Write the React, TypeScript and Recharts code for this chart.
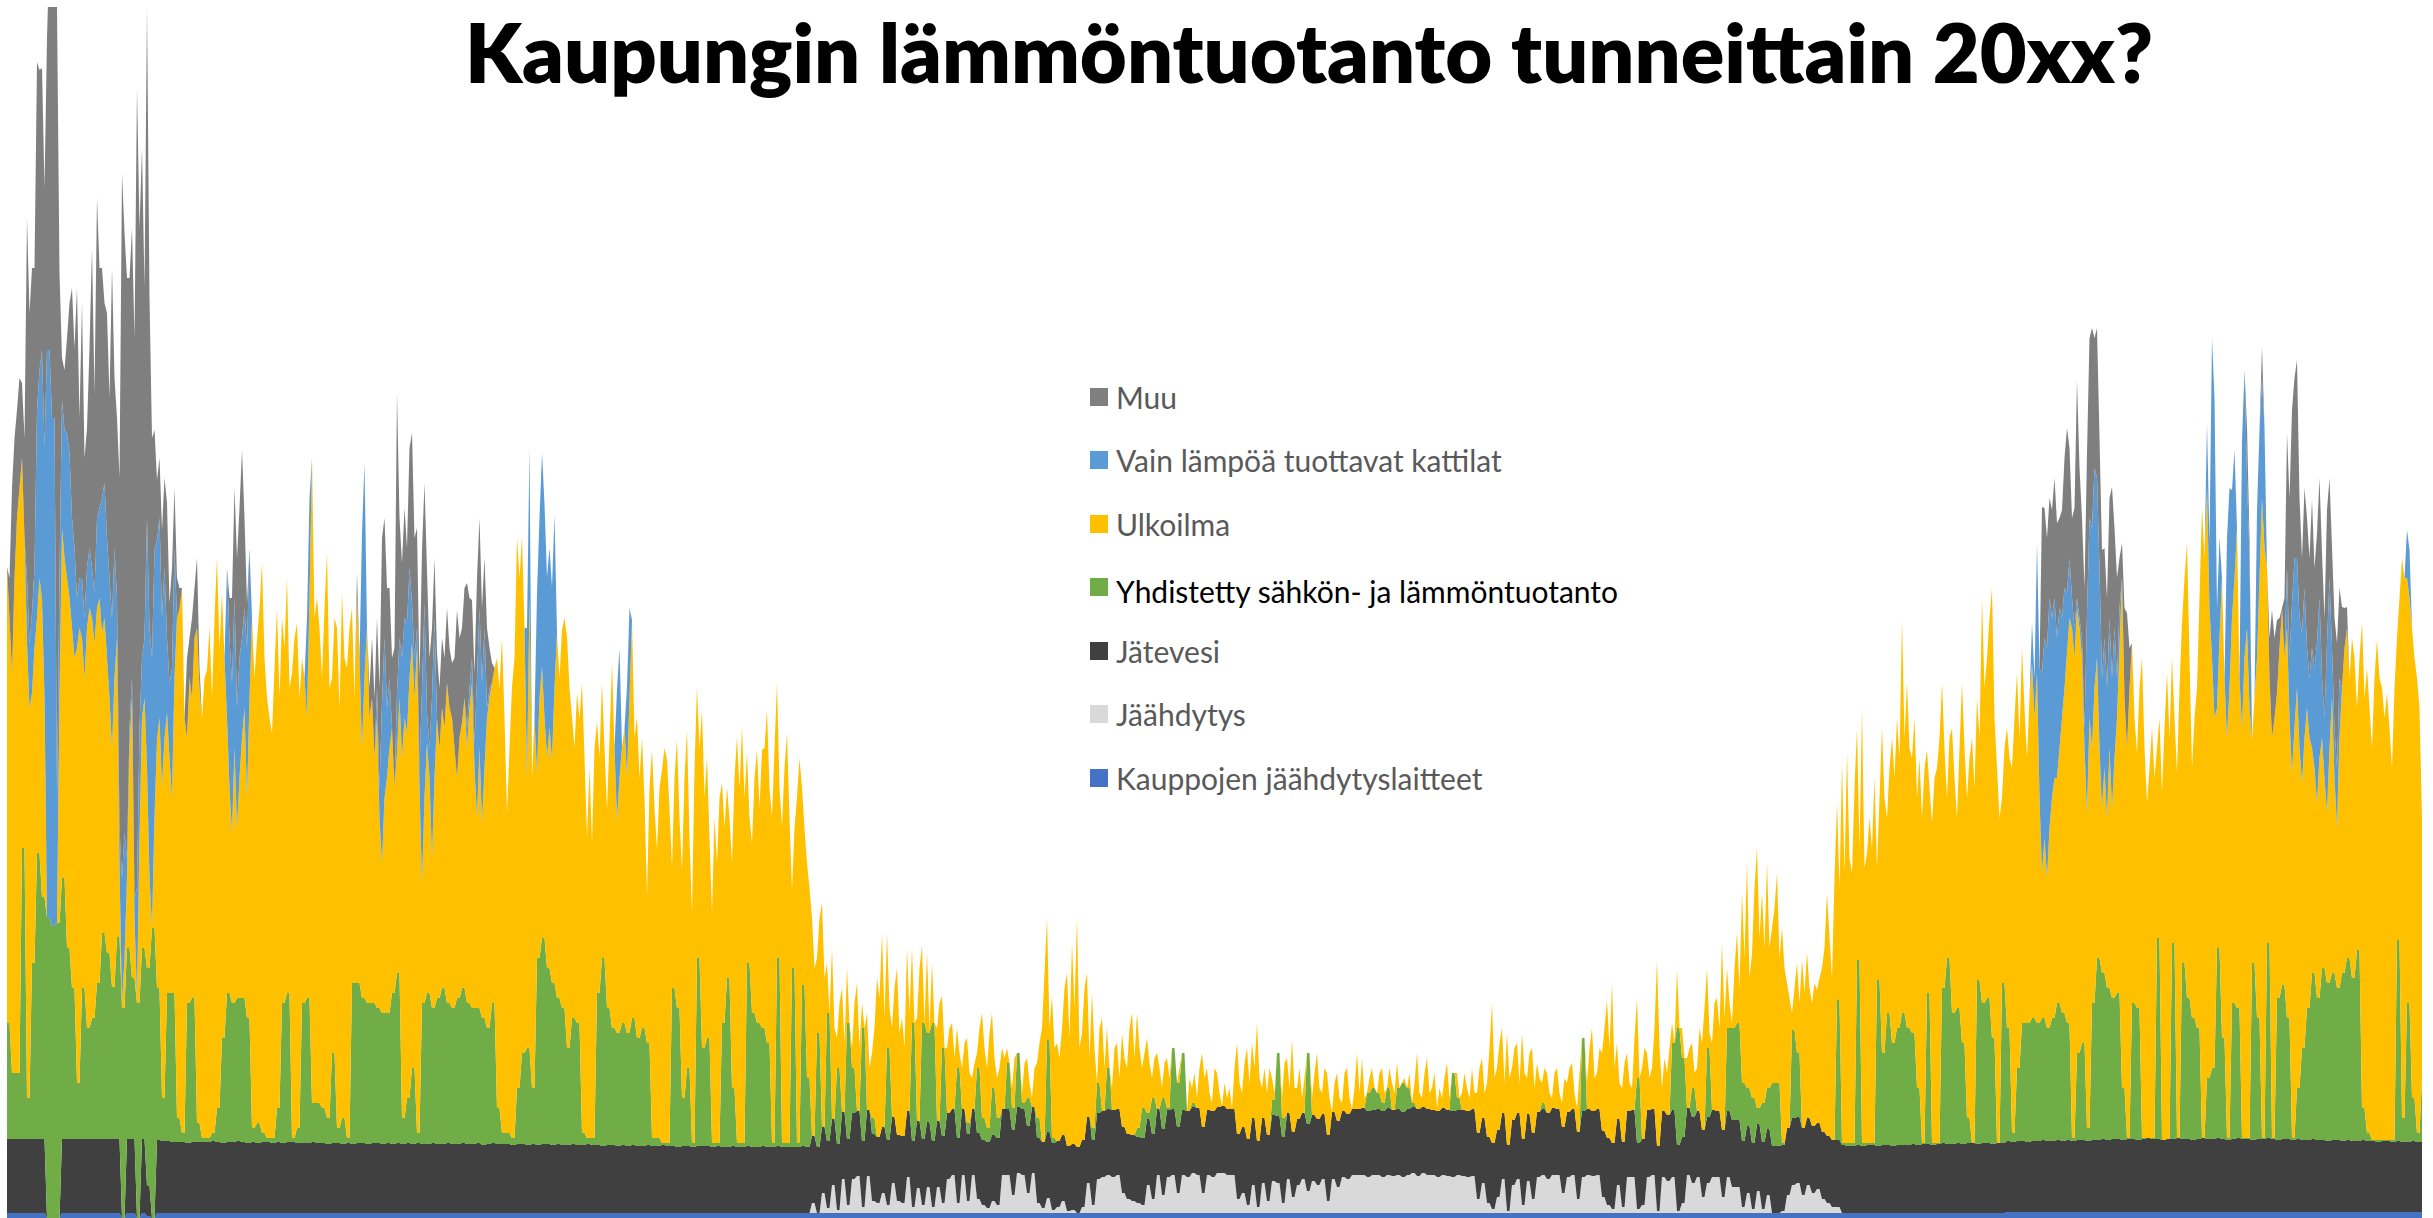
import React from 'react';
import { AreaChart, Area, XAxis, YAxis, Legend } from 'recharts';

// The fast-moving top bands are read every 9 hours, the slower bands every 18.
const HOURS_PER_READING = 9;

// Store refrigeration output, every 18 h.
const kauppojen = [
  5,5,5,5,5,5,5,5,0,0,0,5,5,5,5,5,5,5,5,5,
  5,5,5,0,5,5,0,5,2,0,5,5,5,5,5,5,5,5,5,5,
  5,5,5,5,5,5,5,5,5,5,5,5,5,5,5,5,5,5,5,5,
  5,5,5,5,5,5,5,5,5,5,5,5,5,5,5,5,5,5,5,5,
  5,5,5,5,5,5,5,5,5,5,5,5,5,5,5,5,5,5,5,5,
  5,5,5,5,5,5,5,5,5,5,5,5,5,5,5,5,5,5,5,5,
  5,5,5,5,5,5,5,5,5,5,5,5,5,5,5,5,5,5,5,5,
  5,5,5,5,5,5,5,5,5,5,5,5,5,5,5,5,5,5,5,5,
  5,5,5,5,5,5,5,5,5,5,5,5,5,5,5,5,5,5,5,5,
  5,5,5,5,5,5,5,5,5,5,5,5,5,5,5,5,5,5,5,5,
  5,5,5,5,5,5,5,5,5,5,5,5,5,5,5,5,5,5,5,5,
  5,5,5,5,5,5,5,5,5,5,5,5,5,5,5,5,5,5,5,5,
  5,5,5,5,5,5,5,5,5,5,5,5,5,5,5,5,5,5,5,5,
  5,5,5,5,5,5,5,5,5,5,5,5,5,5,5,5,5,5,5,5,
  5,5,5,5,5,5,5,5,5,5,5,5,5,5,5,5,5,5,5,5,
  5,5,5,5,5,5,5,5,5,5,5,5,5,5,5,5,5,5,5,5,
  5,5,5,5,5,5,5,5,5,5,5,5,5,5,5,5,5,5,5,5,
  5,5,5,5,5,5,5,5,5,5,5,5,5,5,5,5,5,5,5,5,
  5,5,5,5,5,5,5,5,5,5,5,5,5,5,5,5,5,5,5,5,
  5,5,5,5,5,5,5,5,5,5,5,5,5,5,5,5,5,5,5,5,
  6,6,6,6,6,6,6,6,6,6,6,6,6,6,6,6,6,6,6,6,
  6,6,6,6,6,6,6,6,6,6,6,6,6,6,6,6,6,6,6,6,
  6,6,6,6,6,6,6,6,6,6,6,6,6,6,6,6,6,6,6,6,
  6,6,6,6,6,6,6,6,6,6,6,6,6,6,6,6,6,6,6,6,
  6,6,6,6,
];

// Summer cooling recovery, every 18 h, zero outside the warm months.
const jaahdytys = [
  0,0,0,0,0,0,0,0,0,0,0,0,0,0,0,0,0,0,0,0,
  0,0,0,0,0,0,0,0,0,0,0,0,0,0,0,0,0,0,0,0,
  0,0,0,0,0,0,0,0,0,0,0,0,0,0,0,0,0,0,0,0,
  0,0,0,0,0,0,0,0,0,0,0,0,0,0,0,0,0,0,0,0,
  0,0,0,0,0,0,0,0,0,0,0,0,0,0,0,0,0,0,0,0,
  0,0,0,0,0,0,0,0,0,0,0,0,0,0,0,0,0,0,0,0,
  0,0,0,0,0,0,0,0,0,0,0,0,0,0,0,0,0,0,0,0,
  0,0,0,0,0,0,0,0,0,0,0,0,0,0,0,0,0,0,0,0,
  0,10,0,20,5,28,3,34,8,34,37,6,37,12,10,20,8,30,12,10,
  36,6,25,8,26,6,26,10,34,38,10,38,12,38,14,8,5,12,8,38,
  38,18,40,38,20,40,10,5,15,3,6,12,2,3,0,6,30,8,34,36,
  38,36,38,20,14,12,10,8,28,14,38,18,36,38,20,38,36,40,38,20,
  38,36,40,40,38,38,14,20,8,28,6,30,12,32,30,10,34,16,28,34,
  22,32,28,34,12,34,26,36,34,38,38,38,36,38,38,36,38,37,38,36,
  38,40,37,40,38,38,36,38,37,36,38,37,36,37,14,30,10,4,16,34,
  2,28,34,8,32,14,36,38,34,38,38,20,36,38,14,36,38,37,38,16,
  8,4,28,6,36,36,4,8,36,38,2,36,32,36,2,10,38,30,36,16,
  30,36,36,16,36,26,26,6,20,4,22,4,18,0,0,2,18,28,30,18,
  28,20,24,14,10,6,6,0,0,0,0,0,0,0,0,0,0,0,0,0,
  0,0,0,0,0,0,0,0,0,0,0,0,0,0,0,0,0,0,0,0,
  0,0,0,0,0,0,0,0,0,0,0,0,0,0,0,0,0,0,0,0,
  0,0,0,0,0,0,0,0,0,0,0,0,0,0,0,0,0,0,0,0,
  0,0,0,0,0,0,0,0,0,0,0,0,0,0,0,0,0,0,0,0,
  0,0,0,0,0,0,0,0,0,0,0,0,0,0,0,0,0,0,0,0,
  0,0,0,0,
];

// Waste water heat pumps, every 18 h, with a few outages in the first weeks.
const jatevesi = [
  74,74,74,74,74,74,74,74,0,0,0,74,74,74,74,74,74,74,74,74,
  74,74,74,0,74,74,0,74,30,0,73,72,72,71,71,71,70,71,71,71,
  71,72,71,70,71,71,72,71,70,71,70,71,71,70,71,70,71,71,70,70,
  70,71,70,70,69,70,70,69,70,69,70,70,69,70,70,69,70,69,70,69,
  70,69,70,69,69,70,69,69,70,69,69,70,69,69,70,68,69,70,69,69,
  69,68,69,69,68,69,68,69,69,68,69,68,68,69,68,68,69,68,68,67,
  68,68,67,68,67,68,67,67,68,67,67,68,67,67,66,67,67,66,67,67,
  67,66,67,66,66,67,66,66,67,66,66,67,66,66,67,66,66,66,66,67,
  66,67,66,66,67,66,66,67,66,66,65,66,66,67,66,66,65,66,66,67,
  66,66,67,66,65,66,66,67,66,66,65,66,67,66,66,65,66,66,67,66,
  66,65,66,66,67,66,65,66,66,67,66,66,65,66,66,67,66,65,66,66,
  66,67,66,66,65,66,66,67,66,65,66,66,67,66,66,65,66,66,67,66,
  65,66,66,67,66,66,65,66,66,67,66,65,66,66,67,66,66,65,66,66,
  67,66,66,65,66,67,66,66,65,66,66,67,66,65,66,66,67,66,66,65,
  66,66,67,66,66,65,66,67,66,66,65,66,66,67,66,65,66,66,67,66,
  66,65,66,66,67,66,65,66,66,67,66,66,65,66,67,66,66,65,66,66,
  67,66,66,65,66,67,66,66,67,66,65,66,66,67,66,66,67,66,66,67,
  66,67,66,67,66,67,67,66,67,66,67,67,66,67,67,66,67,67,66,67,
  67,67,66,67,67,67,67,68,67,67,68,67,68,68,67,68,68,67,68,68,
  68,69,68,69,69,68,69,70,69,69,70,69,70,70,69,70,70,69,70,70,
  71,70,71,71,70,71,71,72,71,71,72,71,72,71,72,72,71,72,72,73,
  72,73,73,72,73,73,72,73,74,73,73,72,73,73,74,73,73,72,73,74,
  73,73,74,73,72,73,74,73,73,72,73,73,74,73,72,73,73,72,73,72,
  72,73,72,72,71,72,72,71,72,71,71,72,71,71,70,71,71,70,71,70,
  70,71,70,70,
];

// Top of the CHP band, every 18 h, measured up from the zero line.
const sahkoLampoTop = [
  195,145,145,370,120,255,365,321,300,292,295,340,270,230,135,230,190,200,235,285,
  265,231,281,210,270,240,215,270,250,290,230,120,225,225,100,85,215,220,95,80,
  80,85,110,180,225,215,220,220,200,90,95,85,80,80,110,215,225,80,90,215,
  220,115,115,110,100,165,90,100,80,235,235,220,215,215,210,205,205,225,245,100,
  120,150,85,215,225,210,220,230,215,210,220,230,215,210,210,200,190,215,110,85,
  85,80,130,165,170,130,260,280,250,235,220,210,170,200,195,85,80,80,225,260,
  210,190,185,195,185,200,180,190,175,80,80,75,75,230,210,120,150,75,260,170,
  180,75,75,195,240,130,75,75,255,205,195,190,175,75,260,75,75,250,75,233,
  140,75,185,75,205,75,150,80,195,150,80,190,80,100,75,80,170,90,80,75,
  80,195,80,195,185,195,90,170,100,100,150,85,95,90,150,100,90,130,100,90,
  155,110,165,115,120,110,100,70,178,80,70,70,70,70,70,70,70,90,135,100,
  150,100,90,70,70,70,90,110,105,120,105,120,110,170,135,165,100,115,100,90,
  70,70,70,70,70,70,70,70,70,70,70,70,70,118,165,100,70,70,70,70,
  165,70,70,70,70,70,70,70,70,70,70,100,125,130,125,115,130,100,130,135,
  130,115,70,70,70,70,70,70,70,145,120,70,70,70,70,70,70,70,70,70,
  70,70,70,70,70,70,70,115,70,70,70,70,70,70,70,180,70,70,70,70,
  70,70,70,70,70,70,140,70,70,70,70,70,70,175,190,160,70,130,70,70,
  170,75,75,75,190,190,195,135,130,120,110,115,130,135,135,75,75,188,165,75,
  75,75,75,75,75,75,218,75,75,75,258,75,75,75,238,165,205,175,190,205,
  190,185,130,75,225,75,75,230,260,205,210,175,100,75,238,215,220,180,75,235,
  190,85,150,195,195,200,195,200,190,200,215,205,195,80,165,175,90,215,260,245,
  230,220,225,130,80,215,210,80,80,80,280,78,78,275,78,255,220,200,190,78,
  140,150,270,180,80,215,210,80,80,255,200,80,275,80,220,233,200,80,130,170,
  210,245,220,250,235,245,230,245,260,240,268,110,85,78,78,78,78,78,278,100,
  215,120,85,140,
];

// Heat-only boilers run only on the coldest days, every 18 h.
const kattilat = [
  0,0,0,0,65,80,208,250,568,508,125,128,145,110,50,60,60,50,90,135,
  120,130,40,125,20,20,110,60,250,268,200,170,75,130,0,0,0,0,0,0,
  0,0,0,0,150,150,120,100,150,0,0,0,0,0,0,0,0,0,0,0,
  100,0,0,0,0,0,0,0,0,0,0,215,0,0,30,160,70,0,60,100,
  110,40,20,195,30,160,0,0,0,0,0,0,20,25,140,140,10,0,0,0,
  0,0,0,0,150,0,180,214,180,173,0,0,0,0,0,0,0,0,0,0,
  0,0,130,0,90,0,0,0,0,0,0,0,0,0,0,0,0,0,0,0,
  0,0,0,0,0,0,0,0,0,0,0,0,0,0,0,0,0,0,0,0,
  0,0,0,0,0,0,0,0,0,0,0,0,0,0,0,0,0,0,0,0,
  0,0,0,0,0,0,0,0,0,0,0,0,0,0,0,0,0,0,0,0,
  0,0,0,0,0,0,0,0,0,0,0,0,0,0,0,0,0,0,0,0,
  0,0,0,0,0,0,0,0,0,0,0,0,0,0,0,0,0,0,0,0,
  0,0,0,0,0,0,0,0,0,0,0,0,0,0,0,0,0,0,0,0,
  0,0,0,0,0,0,0,0,0,0,0,0,0,0,0,0,0,0,0,0,
  0,0,0,0,0,0,0,0,0,0,0,0,0,0,0,0,0,0,0,0,
  0,0,0,0,0,0,0,0,0,0,0,0,0,0,0,0,0,0,0,0,
  0,0,0,0,0,0,0,0,0,0,0,0,0,0,0,0,0,0,0,0,
  0,0,0,0,0,0,0,0,0,0,0,0,0,0,0,0,0,0,0,0,
  0,0,0,0,0,0,0,0,0,0,0,0,0,0,0,0,0,0,0,0,
  0,0,0,0,0,0,0,0,0,0,0,0,0,0,0,0,0,0,0,0,
  0,0,0,0,0,40,130,200,230,180,140,100,60,30,10,20,200,220,180,130,
  130,130,40,0,0,0,0,0,0,0,0,0,0,0,0,0,0,0,0,0,
  65,320,100,0,200,128,0,288,150,0,148,120,0,0,0,0,60,170,130,150,
  60,100,160,60,170,50,60,0,0,0,0,0,0,0,0,0,0,0,0,0,
  48,0,0,0,
];

// Top of the outdoor-air heat pump band, every 9 h, measured up from the zero line.
const ulkoilmaTop = [
  651,600,545,640,700,730,760,680,575,510,525,570,600,640,618,520,300,295,292,292,295,520,690,660,640,620,590,560,570,590,580,540,590,610,600,575,610,620,585,600,
  560,520,470,540,580,350,215,260,340,470,520,300,220,380,500,520,450,340,292,400,478,500,431,480,505,460,420,540,600,610,630,500,480,540,520,580,590,530,500,540,
  548,590,520,600,660,570,625,560,500,430,385,470,390,440,480,510,420,520,600,540,578,610,655,560,520,500,485,550,610,520,600,570,640,530,545,580,595,520,560,540,
  500,620,760,600,620,590,540,610,665,530,540,600,590,510,625,560,550,590,610,520,620,560,470,540,590,500,520,460,500,400,355,420,440,470,490,430,465,520,460,500,
  485,540,575,520,570,430,335,420,475,440,360,440,500,470,510,490,535,510,500,470,440,480,495,520,470,510,535,450,400,470,395,450,500,520,535,550,560,530,580,500,
  405,470,531,560,681,640,681,590,440,620,440,500,445,520,551,500,461,490,458,530,585,540,588,600,581,530,501,470,525,500,535,460,381,450,375,470,496,460,535,470,
  408,480,555,470,398,440,471,490,441,520,598,480,501,440,480,420,322,430,468,410,368,430,448,470,458,410,351,440,478,400,348,440,488,380,305,450,531,470,508,420,
  461,380,305,400,355,420,435,390,431,400,355,440,481,430,491,420,465,400,375,440,468,410,468,470,508,430,401,470,535,430,391,450,485,400,328,390,421,460,430,390,
  355,330,300,250,260,300,315,240,255,200,270,190,180,215,230,175,250,160,170,215,235,170,215,180,205,150,165,190,240,220,285,200,285,210,190,230,250,185,200,170,
  270,205,270,180,200,250,272,195,265,190,255,170,190,215,222,150,170,190,195,160,190,165,150,175,180,145,140,155,165,190,205,170,150,185,205,160,140,150,170,160,
  170,150,130,160,165,140,125,155,160,135,120,150,155,175,190,245,300,190,222,170,175,160,190,230,245,180,275,210,300,170,185,230,245,160,225,170,135,190,200,150,
  190,150,130,170,175,140,185,160,150,190,205,160,205,170,150,165,180,155,140,160,165,150,130,155,160,140,155,135,125,150,145,130,105,140,130,145,120,150,165,140,
  150,125,115,150,145,125,110,135,120,130,110,150,175,135,125,155,170,135,175,150,195,140,130,150,125,150,140,125,130,145,120,155,160,130,178,130,130,150,120,140,
  145,125,120,145,165,130,125,150,145,120,105,135,145,120,115,145,150,120,100,130,165,125,160,120,115,140,150,125,125,145,150,125,120,150,135,125,155,125,110,140,
  120,145,105,135,165,125,120,145,160,125,130,145,110,130,120,140,155,120,115,135,145,120,125,145,130,120,150,125,125,150,160,125,135,170,215,140,150,175,190,135,
  185,140,150,170,175,135,185,145,140,165,170,130,155,140,135,150,145,125,120,145,150,125,115,140,135,150,155,125,110,145,155,130,135,170,190,140,145,170,165,190,
  218,170,235,150,175,135,130,155,165,135,130,180,220,140,150,170,165,140,150,190,258,170,130,160,145,170,195,165,248,180,190,150,160,170,175,145,150,190,175,210,
  250,185,175,215,220,190,275,200,250,215,195,250,285,230,325,260,355,240,265,330,370,280,325,270,355,270,290,310,345,260,290,250,235,220,205,230,255,215,258,225,
  265,230,215,235,228,240,250,270,325,280,240,340,415,330,455,345,465,360,345,430,490,370,510,350,365,400,370,440,350,420,490,420,400,450,480,440,500,460,598,480,
  535,470,460,500,420,460,400,450,468,430,395,440,450,480,535,470,420,480,490,440,400,470,535,470,420,460,480,430,520,480,620,530,560,600,630,500,450,400,420,470,
  490,460,450,500,545,480,570,510,460,520,555,500,545,420,345,380,340,390,420,440,440,470,500,530,565,600,590,560,610,590,560,470,405,500,470,530,560,470,410,450,
  400,470,410,460,500,570,640,520,470,530,575,500,465,530,560,470,415,450,490,440,470,500,425,490,545,480,560,500,445,530,595,640,675,560,450,500,530,620,710,660,
  730,610,560,500,510,580,640,540,480,530,600,640,690,540,490,560,590,510,478,520,560,640,720,670,650,540,480,500,525,570,610,560,590,500,445,490,530,470,435,480,
  510,480,470,450,415,460,480,440,405,470,520,440,390,480,530,570,590,540,580,560,510,560,595,520,550,510,470,540,578,540,530,500,525,490,450,530,580,620,660,640,
  640,620,590,560,540,510,400,
];

// Everything else, the peak reserve on top of the stack, every 9 h.
const muu = [
  0,40,185,140,108,110,75,100,360,330,345,300,348,300,282,260,312,400,411,600,791,300,42,60,95,150,230,200,310,160,275,160,140,200,320,200,320,240,230,180,
  225,180,350,170,180,350,705,600,580,450,450,560,800,500,510,350,511,330,220,120,60,60,87,90,135,80,100,60,40,20,0,0,80,40,80,50,70,20,0,0,
  0,0,0,0,0,0,0,0,0,40,85,110,150,150,188,90,45,0,0,0,0,0,0,0,0,0,0,0,0,0,0,0,0,0,0,0,0,0,0,0,
  0,0,0,0,0,0,0,0,0,0,0,0,0,0,0,0,0,0,0,0,25,0,0,0,0,30,60,60,70,100,165,120,120,90,70,140,300,120,95,110,
  75,120,170,120,100,90,138,120,143,90,70,60,65,60,70,70,75,60,55,90,168,100,95,110,145,90,58,70,100,90,75,70,80,40,20,0,0,0,0,0,
  0,0,0,0,0,0,0,0,0,0,0,0,0,0,0,0,0,0,0,0,0,0,0,0,0,0,0,0,0,0,0,0,0,0,0,0,0,0,0,0,
  0,0,0,0,0,0,0,0,0,0,0,0,0,0,0,0,0,0,0,0,0,0,0,0,0,0,0,0,0,0,0,0,0,0,0,0,0,0,0,0,
  0,0,0,0,0,0,0,0,0,0,0,0,0,0,0,0,0,0,0,0,0,0,0,0,0,0,0,0,0,0,0,0,0,0,0,0,0,0,0,0,
  0,0,0,0,0,0,0,0,0,0,0,0,0,0,0,0,0,0,0,0,0,0,0,0,0,0,0,0,0,0,0,0,0,0,0,0,0,0,0,0,
  0,0,0,0,0,0,0,0,0,0,0,0,0,0,0,0,0,0,0,0,0,0,0,0,0,0,0,0,0,0,0,0,0,0,0,0,0,0,0,0,
  0,0,0,0,0,0,0,0,0,0,0,0,0,0,0,0,0,0,0,0,0,0,0,0,0,0,0,0,0,0,0,0,0,0,0,0,0,0,0,0,
  0,0,0,0,0,0,0,0,0,0,0,0,0,0,0,0,0,0,0,0,0,0,0,0,0,0,0,0,0,0,0,0,0,0,0,0,0,0,0,0,
  0,0,0,0,0,0,0,0,0,0,0,0,0,0,0,0,0,0,0,0,0,0,0,0,0,0,0,0,0,0,0,0,0,0,0,0,0,0,0,0,
  0,0,0,0,0,0,0,0,0,0,0,0,0,0,0,0,0,0,0,0,0,0,0,0,0,0,0,0,0,0,0,0,0,0,0,0,0,0,0,0,
  0,0,0,0,0,0,0,0,0,0,0,0,0,0,0,0,0,0,0,0,0,0,0,0,0,0,0,0,0,0,0,0,0,0,0,0,0,0,0,0,
  0,0,0,0,0,0,0,0,0,0,0,0,0,0,0,0,0,0,0,0,0,0,0,0,0,0,0,0,0,0,0,0,0,0,0,0,0,0,0,0,
  0,0,0,0,0,0,0,0,0,0,0,0,0,0,0,0,0,0,0,0,0,0,0,0,0,0,0,0,0,0,0,0,0,0,0,0,0,0,0,0,
  0,0,0,0,0,0,0,0,0,0,0,0,0,0,0,0,0,0,0,0,0,0,0,0,0,0,0,0,0,0,0,0,0,0,0,0,0,0,0,0,
  0,0,0,0,0,0,0,0,0,0,0,0,0,0,0,0,0,0,0,0,0,0,0,0,0,0,0,0,0,0,0,0,0,0,0,0,0,0,0,0,
  0,0,0,0,0,0,0,0,0,0,0,0,0,0,0,0,0,0,0,0,0,0,0,0,0,0,0,0,0,0,0,0,0,0,0,0,0,0,0,0,
  0,0,0,0,0,0,0,0,0,0,0,0,0,0,166,130,110,100,108,120,115,90,108,130,165,110,80,120,218,150,120,140,160,180,200,130,150,130,128,90,
  90,120,191,100,100,50,35,90,135,40,0,0,0,0,0,0,0,0,0,0,0,0,0,0,0,0,0,0,0,0,0,0,0,0,0,0,0,0,0,0,
  0,0,0,0,0,0,0,0,0,0,0,0,0,0,0,0,51,20,0,0,0,0,31,0,0,40,128,80,73,30,0,60,135,160,193,180,198,120,75,100,
  130,120,148,100,110,120,125,100,133,100,101,110,125,90,81,40,21,0,0,0,0,0,0,0,0,0,0,0,0,0,0,0,0,0,0,0,0,0,0,0,
  0,0,0,0,0,0,0,
];

// Legend runs top to bottom, opposite to the stacking order.
const SERIES = [
  { key: 'muu', name: 'Muu', color: '#7F7F7F' },
  { key: 'kattilat', name: 'Vain lämpöä tuottavat kattilat', color: '#5B9BD5' },
  { key: 'ulkoilma', name: 'Ulkoilma', color: '#FFC000' },
  { key: 'sahkoLampo', name: 'Yhdistetty sähkön- ja lämmöntuotanto', color: '#70AD47' },
  { key: 'jatevesi', name: 'Jätevesi', color: '#404040' },
  { key: 'jaahdytys', name: 'Jäähdytys', color: '#D9D9D9' },
  { key: 'kauppojen', name: 'Kauppojen jäähdytyslaitteet', color: '#4472C4' },
];

const chartData = ulkoilmaTop.map((top, i) => {
  // slower bands hold their 18 h reading across two rows
  const slow = Math.floor(i / 2);
  const belowChp = kauppojen[slow] + jaahdytys[slow] + jatevesi[slow];
  const chpTop = Math.max(sahkoLampoTop[slow], belowChp);
  return {
    hour: i * HOURS_PER_READING,
    kauppojen: kauppojen[slow],
    jaahdytys: jaahdytys[slow],
    jatevesi: jatevesi[slow],
    sahkoLampo: chpTop - belowChp,
    ulkoilma: Math.max(top - chpTop, 0),
    kattilat: kattilat[slow],
    muu: muu[i] ?? 0,
  };
});

function LegendList() {
  return (
    <div style={{ fontFamily: 'Lato, sans-serif', fontSize: 30 }}>
      {SERIES.map((s) => {
        const highlighted = s.key === 'sahkoLampo';
        return (
          <div key={s.key} style={{ height: 63.5, display: 'flex', alignItems: 'center' }}>
            <span style={{ width: 18, height: 18, background: s.color, marginRight: 8, flex: 'none' }} />
            <span
              style={{
                color: highlighted ? '#000000' : '#595959',
                position: 'relative',
                top: highlighted ? 4 : 0,
                whiteSpace: 'nowrap',
              }}
            >
              {s.name}
            </span>
          </div>
        );
      })}
    </div>
  );
}

export default function App() {
  return (
    <div style={{ position: 'absolute', left: 0, top: 0, width: 2433, height: 1218, overflow: 'hidden', background: '#fff' }}>
      <div
        style={{
          position: 'absolute',
          left: 0,
          width: 2618,
          top: 2,
          textAlign: 'center',
          fontFamily: 'Lato, sans-serif',
          fontWeight: 800,
          fontSize: 81,
          lineHeight: '100px',
          color: '#000',
          whiteSpace: 'nowrap',
        }}
      >
        Kaupungin lämmöntuotanto tunneittain 20xx?
      </div>
      <div style={{ position: 'absolute', left: 7, top: 7 }}>
        <AreaChart
          width={2415}
          height={1211}
          data={chartData}
          margin={{ top: 0, right: 0, bottom: 0, left: 0 }}
        >
          <XAxis dataKey="hour" hide />
          <YAxis hide domain={[0, 1211]} allowDataOverflow />
          <Legend
            layout="vertical"
            align="center"
            verticalAlign="middle"
            content={<LegendList />}
            wrapperStyle={{ left: 1083, top: 358, width: 640, height: 445 }}
          />
          {[...SERIES].reverse().map((s) => (
            <Area
              key={s.key}
              type="linear"
              dataKey={s.key}
              name={s.name}
              stackId="1"
              stroke="none"
              fill={s.color}
              fillOpacity={1}
              dot={false}
              activeDot={false}
              isAnimationActive={false}
            />
          ))}
        </AreaChart>
      </div>
    </div>
  );
}
